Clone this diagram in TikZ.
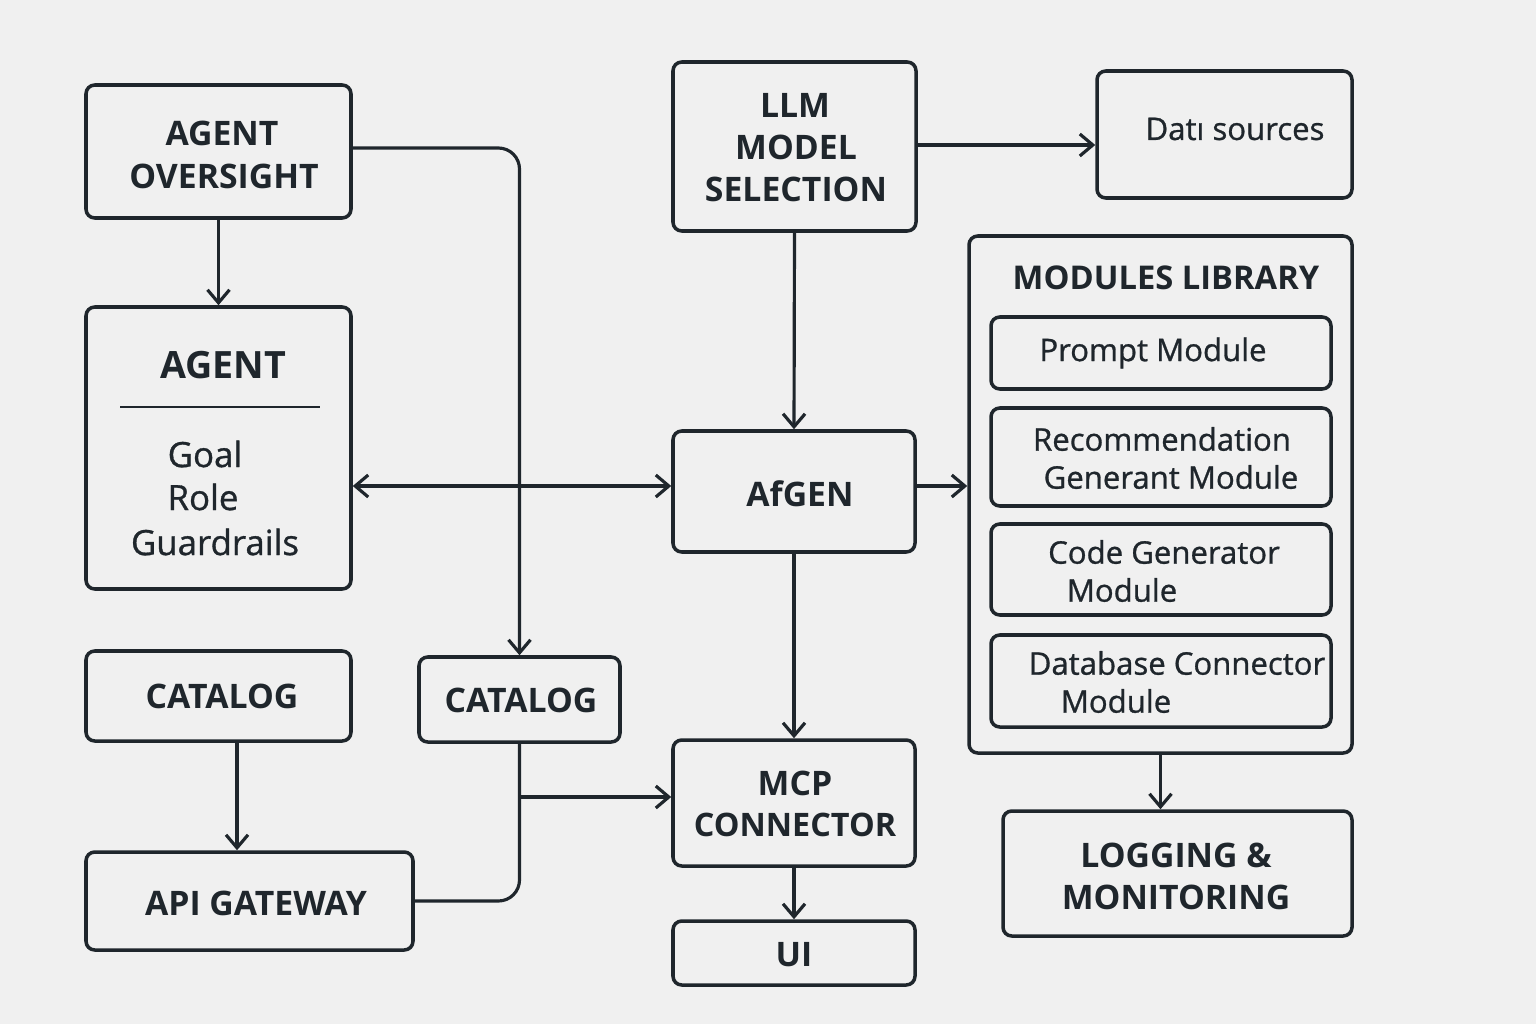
\documentclass[tikz,border=0pt]{standalone}
\usepackage{fontspec}
\setmainfont{Open Sans}
\newfontfamily\medfont{Open Sans}[FakeBold=0.9]
\usetikzlibrary{arrows.meta}
\definecolor{ink}{HTML}{1F262C}
\definecolor{bg}{HTML}{F0F0F0}
\tikzset{
  box/.style={draw=ink, line width=1pt, rounded corners=2.5pt, inner sep=0pt},
  tb/.style={text=ink, font=\fontsize{9.6}{11}\selectfont\bfseries, inner sep=0pt, anchor=center},
  tr/.style={text=ink, font=\medfont\fontsize{8.85}{11}\selectfont, inner sep=0pt, anchor=center},
  conn/.style={draw=ink, line width=0.9pt},
  arr/.style={conn, -{Straight Barb[length=1.3mm,width=2.2mm,line width=0.9pt]}},
  arrs/.style={conn, {Straight Barb[length=1.3mm,width=2.2mm,line width=0.9pt]}-{Straight Barb[length=1.3mm,width=2.2mm,line width=0.9pt]}},
}
\newcommand{\bx}[5]{\node[box, minimum width=#4*0.01cm, minimum height=#5*0.01cm] (#1) at (#2,#3) {};}
\begin{document}
\begin{tikzpicture}[x=0.01cm,y=-0.01cm]
\fill[bg] (0,0) rectangle (1536,1024);
\useasboundingbox (0,0) rectangle (1536,1024);

% boxes (name, cx, cy, w, h)
\bx{ao}{218.5}{151.5}{265}{133}
\bx{ag}{218.5}{448}{265}{282}
\bx{cat1}{218.5}{696}{265}{90}
\bx{api}{249.5}{901}{327}{98}
\bx{cat2}{519.5}{699.5}{201}{85}
\bx{llm}{794.5}{146.5}{243}{169}
\bx{ds}{1224.5}{134.5}{255}{127}
\bx{afg}{794}{491.5}{242}{121}
\bx{mcp}{794}{803}{242}{126}
\bx{ui}{794}{953}{242}{64}
\bx{ml}{1160.5}{494.5}{383}{517}
\bx{pm}{1161}{353}{340}{72}
\bx{rm}{1161}{457}{340}{98}
\bx{cg}{1161}{569.5}{340}{91}
\bx{db}{1161}{681}{340}{92}
\bx{lg}{1177.5}{873.5}{349}{125}

% texts
\node[tb] (ao1) at (222,133) {AGENT};
\node[tb] (ao2) at (224,176) {OVERSIGHT};
\node[tb, font=\fontsize{10.7}{13}\selectfont\bfseries] (ag1) at (223,365) {AGENT};
\draw[conn, line width=0.7pt] (120,407) -- (320,407);
\node[tr, font=\medfont\fontsize{9.9}{12}\selectfont] (ag2) at (205,454) {Goal};
\node[tr, font=\medfont\fontsize{9.9}{12}\selectfont] (ag3) at (203,497) {Role};
\node[tr, font=\medfont\fontsize{9.9}{12}\selectfont] (ag4) at (215,542) {Guardrails};
\node[tb] (c1t) at (222,696) {CATALOG};
\node[tb] (c2t) at (521,700) {CATALOG};
\node[tb] (apit) at (256,903) {API GATEWAY};
\node[tb] (llm1) at (795,105) {LLM};
\node[tb] (llm2) at (796,147) {MODEL};
\node[tb] (llm3) at (796,189) {SELECTION};
\node[tr] (dst) at (1235,129) {Datı sources};
\node[tb] (afgt) at (800,494) {AfGEN};
\node[tb] (mcp1) at (795,783) {MCP};
\node[tb, font=\fontsize{9.2}{11}\selectfont\bfseries] (mcp2) at (795,825) {CONNECTOR};
\node[tb] (uit) at (794,955) {UI};
\node[tb, font=\fontsize{9.3}{11}\selectfont\bfseries] (mlt) at (1166,278) {MODULES LIBRARY};
\node[tr] (pmt) at (1153,353) {Prompt Module};
\node[tr] (rm1) at (1162,439) {Recommendation};
\node[tr] (rm2) at (1171,477) {Generant Module};
\node[tr] (cg1) at (1164,552) {Code Generator};
\node[tr] (cg2) at (1122,590) {Module};
\node[tr] (db1) at (1177,663) {Database Connector};
\node[tr] (db2) at (1116,701) {Module};
\node[tb] (lg1) at (1176,855) {LOGGING \&};
\node[tb] (lg2) at (1176,897) {MONITORING};

% helper coordinates
\coordinate (x237) at (237,0);
\coordinate (y486) at (0,486);
\coordinate (y797) at (0,797);
\coordinate (y148) at (0,148);

% connectors
\draw[arr] (ao.south) -- (ag.north);
\draw[arr, rounded corners=6pt] (ao.east |- y148) -| (cat2.north);
\draw[arrs] (ag.east |- y486) -- (afg.west |- y486);
\draw[arr] (llm.south) -- (afg.north);
\draw[arr] (llm.east |- 0,145) -- (ds.west |- 0,145);
\draw[arr] (afg.east |- y486) -- (ml.west |- y486);
\draw[arr] (afg.south) -- (mcp.north);
\draw[arr] (cat1.south -| x237) -- (api.north -| x237);
\draw[conn, rounded corners=6pt] (cat2.south) |- (api.east);
\coordinate (br) at (cat2.south |- y797);
\draw[arr] (br) -- (mcp.west |- y797);
\draw[arr] (mcp.south) -- (ui.north);
\draw[arr] (ml.south) -- (lg.north -| ml.south);
\end{tikzpicture}
\end{document}
